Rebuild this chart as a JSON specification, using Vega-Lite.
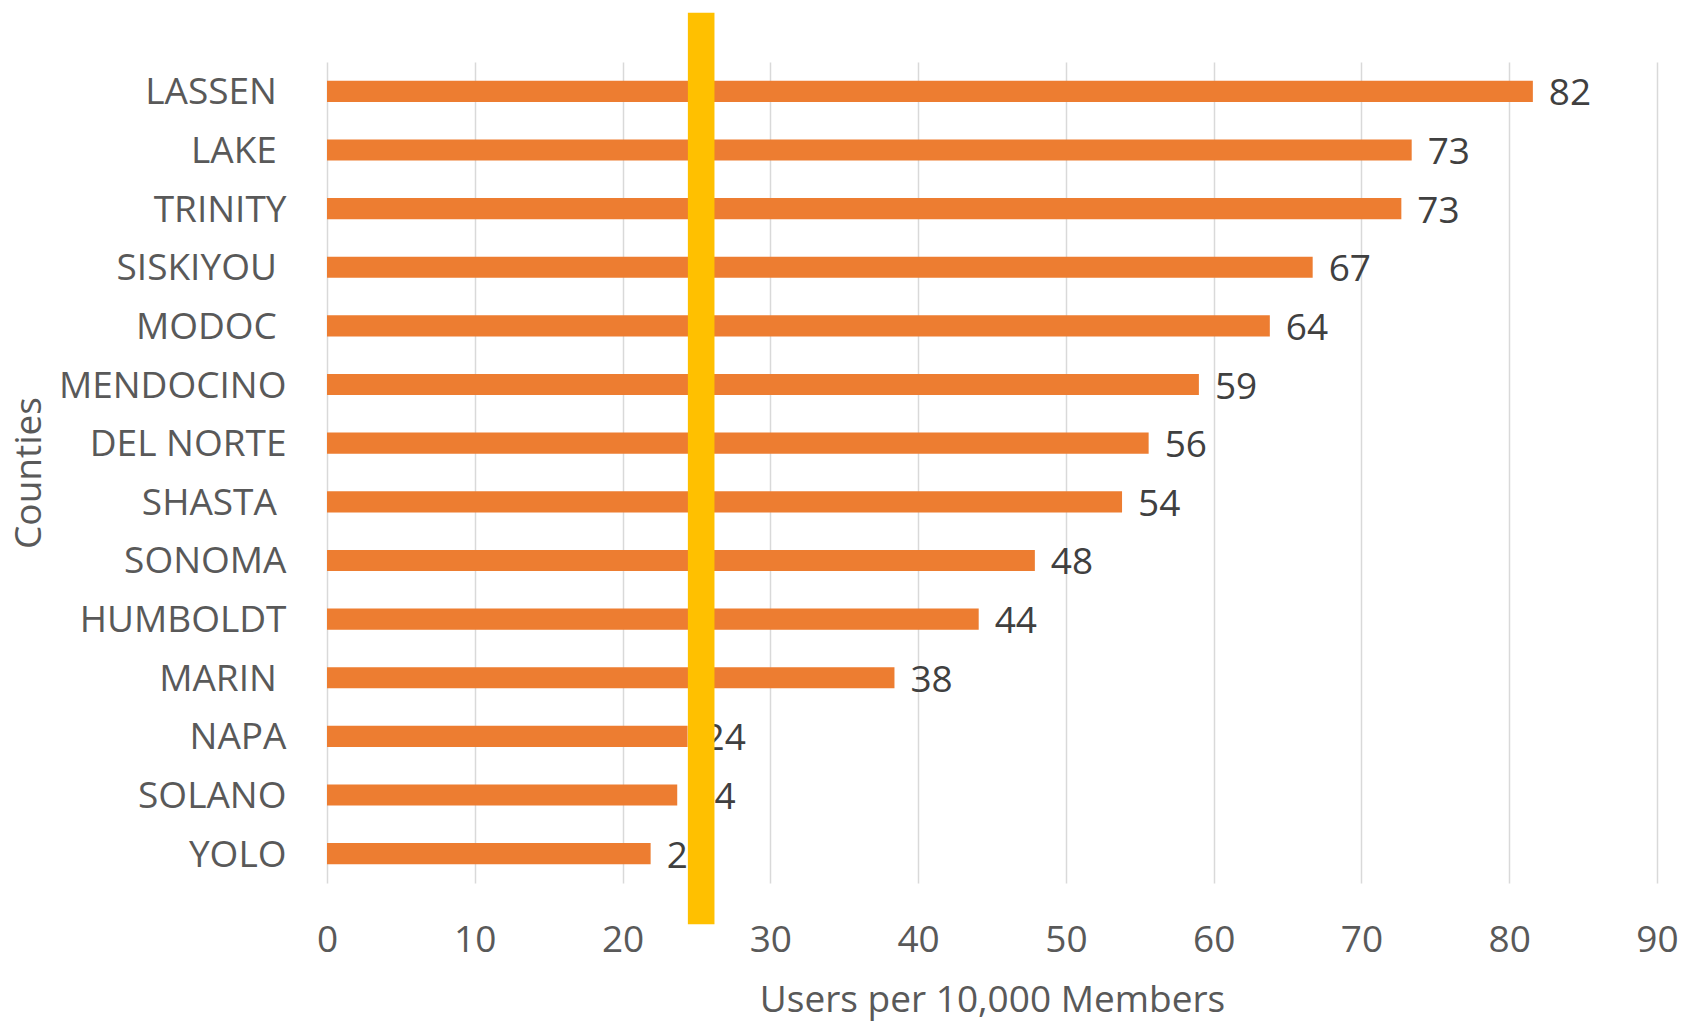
{
  "$schema": "https://vega.github.io/schema/vega-lite/v6.json",
  "width": 1330,
  "height": 821,
  "autosize": {"type": "none"},
  "padding": {"left": 327, "top": 62, "right": 25, "bottom": 138},
  "background": "white",
  "config": {"view": {"stroke": null}, "font": "Open Sans"},
  "data": {
    "values": [
      {"county": "LASSEN\u00a0\u200b", "users": 81.6},
      {"county": "LAKE\u00a0\u200b", "users": 73.4},
      {"county": "TRINITY", "users": 72.7},
      {"county": "SISKIYOU\u00a0\u200b", "users": 66.7},
      {"county": "MODOC\u00a0\u200b", "users": 63.8},
      {"county": "MENDOCINO", "users": 59.0},
      {"county": "DEL NORTE", "users": 55.6},
      {"county": "SHASTA\u00a0\u200b", "users": 53.8},
      {"county": "SONOMA", "users": 47.9},
      {"county": "HUMBOLDT", "users": 44.1},
      {"county": "MARIN\u00a0\u200b", "users": 38.4},
      {"county": "NAPA", "users": 24.4},
      {"county": "SOLANO", "users": 23.7},
      {"county": "YOLO", "users": 21.9}
    ]
  },
  "layer": [
    {
      "encoding": {
        "y": {
          "field": "county", "type": "nominal", "sort": null,
          "scale": {"paddingInner": 0.64, "paddingOuter": 0.32},
          "axis": {
            "title": "Counties", "titleFontSize": 37, "titleFontWeight": "normal", "titleColor": "#595959",
            "titleAngle": 270, "titleX": -287, "titleY": 410.5, "titleAlign": "center", "titleBaseline": "alphabetic",
            "labelFontSize": 37, "labelColor": "#595959", "labelPadding": 41, "labelOffset": 2, "labelLimit": 400,
            "ticks": false, "domain": false, "grid": false
          }
        },
        "x": {
          "field": "users", "type": "quantitative",
          "scale": {"domain": [0, 90]},
          "axis": {
            "values": [0, 10, 20, 30, 40, 50, 60, 70, 80, 90],
            "grid": true, "gridColor": "#D9D9D9", "gridWidth": 1.5,
            "domain": false, "ticks": false, "labelFlush": false,
            "labelFontSize": 37, "labelColor": "#595959", "labelPadding": 39,
            "title": "Users per 10,000 Members", "titleFontSize": 37, "titleFontWeight": "normal", "titleColor": "#595959",
            "titleX": 665, "titleY": 128, "titleAlign": "center", "titleBaseline": "alphabetic"
          }
        }
      },
      "layer": [
        {"mark": {"type": "bar", "color": "#ED7D31"}},
        {
          "mark": {"type": "text", "align": "left", "baseline": "middle", "dx": 16, "dy": 3, "fontSize": 37, "color": "#404040"},
          "encoding": {"text": {"field": "users", "type": "quantitative", "format": ".0f"}}
        }
      ]
    },
    {
      "data": {"values": [{"average": 25.32}]},
      "mark": {"type": "rule", "color": "#FFC000", "strokeWidth": 26.6, "strokeCap": "butt"},
      "encoding": {
        "x": {"field": "average", "type": "quantitative"},
        "y": {"datum": 1.06, "type": "quantitative", "scale": {"domain": [0, 1]}, "axis": null},
        "y2": {"datum": -0.0503}
      }
    }
  ],
  "resolve": {"scale": {"y": "independent"}}
}
